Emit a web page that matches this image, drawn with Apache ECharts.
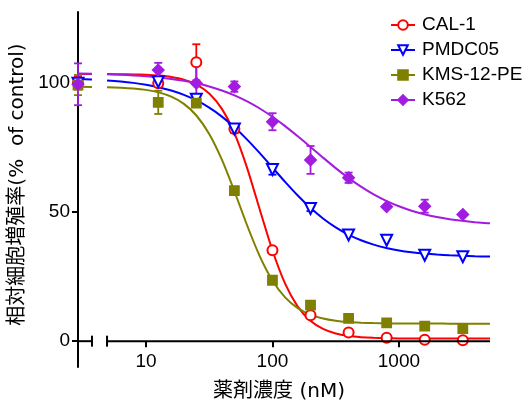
<!DOCTYPE html>
<html><head><meta charset="utf-8">
<script src="https://cdn.jsdelivr.net/npm/echarts@6/dist/echarts.min.js"></script>
<style>html,body{margin:0;padding:0;background:#fff}#c{width:529px;height:401px}</style>
</head><body><div id="c"></div>
<script>
// ---- data ----
const seriesNames = ['CAL-1', 'PMDC05', 'KMS-12-PE', 'K562'];
const doseConc = [2.9, 12.5, 25, 50, 100, 200, 400, 800, 1600, 3200]; // first = control (0 nM)
const cal1Mean = [100, 99.9, 108, 82.2, 35.2, 10.0, 3.4, 1.3, 0.6, 0.4];
const cal1Err  = [2.5, 1.0, 7.0, 1.5, 0, 0, 0, 0, 0, 0];
const pmdcMean = [99.9, 100.5, 93.7, 82.2, 66.5, 51.4, 41.1, 39.1, 33.3, 32.7];
const pmdcErr  = [1.5, 1.0, 1.5, 1.5, 2.0, 1.0, 0, 0, 0, 0];
const kmsMean  = [99.2, 92.5, 92.2, 58.3, 23.6, 14.0, 8.8, 7.1, 5.8, 4.9];
const kmsErr   = [3.9, 4.5, 1.0, 1.5, 0, 0, 0, 0, 0, 0];
const k562Mean = [99.5, 105, 99.9, 98.6, 85.0, 70.2, 63.3, 52.1, 52.3, 49.1];
const k562Err  = [8.1, 2.8, 8.3, 2.0, 3.3, 5.4, 2.0, 0, 2.5, 0];

// fitted curves
const curveConc = [2.9, 3.74, 4.92, 6.31, 7.94, 10, 12.59, 15.85, 19.95, 25.12, 31.62, 39.81, 50.12, 63.10, 79.43,
  100, 125.9, 158.5, 199.5, 251.2, 316.2, 398.1, 501.2, 631.0, 794.3, 1000, 1259, 1585, 1995, 2512, 3162, 3981, 5012, 5250];
const cal1Curve = [103.5, 103.5, 103.45, 103.41, 103.33, 103.18, 102.88, 102.33, 101.3, 99.38, 95.93, 89.98, 80.48, 67.04, 50.93,
  35.11, 22.27, 13.38, 7.89, 4.74, 2.99, 2.06, 1.56, 1.29, 1.15, 1.08, 1.04, 1.02, 1.01, 1.0, 1.0, 1.0, 1.0, 1.0];
const pmdcCurve = [101.51, 101.31, 100.99, 100.58, 100.05, 99.34, 98.38, 97.1, 95.41, 93.23, 90.44, 86.99, 82.85, 78.08, 72.81,
  67.25, 61.7, 56.42, 51.65, 47.51, 44.06, 41.28, 39.09, 37.4, 36.12, 35.16, 34.45, 33.92, 33.54, 33.25, 33.05, 32.9, 32.79, 32.77];
const kmsCurve  = [98.54, 98.49, 98.39, 98.2, 97.89, 97.34, 96.38, 94.72, 91.9, 87.31, 80.24, 70.29, 57.98, 44.81, 32.87,
  23.51, 16.99, 12.81, 10.27, 8.78, 7.92, 7.43, 7.16, 7.0, 6.91, 6.86, 6.83, 6.82, 6.81, 6.8, 6.8, 6.8, 6.8, 6.8];
const k562Curve = [103.68, 103.57, 103.4, 103.19, 102.93, 102.59, 102.15, 101.57, 100.83, 99.87, 98.65, 97.11, 95.21, 92.89, 90.13,
  86.92, 83.31, 79.37, 75.25, 71.09, 67.04, 63.26, 59.85, 56.87, 54.35, 52.25, 50.54, 49.18, 48.1, 47.26, 46.61, 46.11, 45.72, 45.65];

const xTickValues = [10, 100, 1000];
const yTickValues = [0, 50, 100];
const xRange = [2.9, 5250];
const yRange = [-10, 127.5];
const axisBreak = [3.74, 4.92];

// ---- styles ----
const colors = ['#FF0000', '#0000FF', '#808000', '#A21CE0'];
const symbols = ['emptyCircle', 'emptyTriangle', 'rect', 'diamond'];
const symbolSizes = [10, 11, 9, 11];
const symbolRotates = [0, 180, 0, 0];
const FONT = "'Liberation Sans', Arial, 'Noto Sans CJK JP', sans-serif";
const TITLE_FONT = "'DejaVu Sans', 'Noto Sans CJK JP', sans-serif";

const means = [cal1Mean, pmdcMean, kmsMean, k562Mean];
const errs = [cal1Err, pmdcErr, kmsErr, k562Err];
const curves = [cal1Curve, pmdcCurve, kmsCurve, k562Curve];

function curveData(vals) {
  const out = [];
  curveConc.forEach((c, i) => {
    if (i > 0 && curveConc[i - 1] <= axisBreak[0] && c >= axisBreak[1]) {
      out.push([(axisBreak[0] + axisBreak[1]) / 2, '-']);
    }
    out.push([c, vals[i]]);
  });
  return out;
}

const series = [];
// curves first (legend icons come from these)
seriesNames.forEach((n, k) => {
  series.push({
    type: 'line', name: n, data: curveData(curves[k]), showSymbol: false,
    symbol: symbols[k], symbolSize: symbolSizes[k], symbolRotate: symbolRotates[k],
    connectNulls: false, smooth: 0.2,
    lineStyle: { color: colors[k], width: 2 },
    itemStyle: { color: colors[k], borderColor: colors[k], borderWidth: 1.8 },
    z: 2, silent: true
  });
});
// error bars
seriesNames.forEach((n, k) => {
  const data = doseConc.map((c, i) => [c, means[k][i] - errs[k][i], means[k][i] + errs[k][i], errs[k][i]]);
  series.push({
    type: 'custom', name: n, clip: false, silent: true, z: 3,
    encode: { x: 0, y: [1, 2] },
    data: data,
    renderItem: function (params, api) {
      if (api.value(3) <= 0) return null;
      const x = api.value(0);
      const p1 = api.coord([x, api.value(2)]);
      const p2 = api.coord([x, api.value(1)]);
      const w = 4;
      const st = { stroke: colors[k], lineWidth: 1.8 };
      return {
        type: 'group', children: [
          { type: 'line', shape: { x1: p1[0], y1: p1[1], x2: p2[0], y2: p2[1] }, style: st },
          { type: 'line', shape: { x1: p1[0] - w, y1: p1[1], x2: p1[0] + w, y2: p1[1] }, style: st },
          { type: 'line', shape: { x1: p2[0] - w, y1: p2[1], x2: p2[0] + w, y2: p2[1] }, style: st }
        ]
      };
    }
  });
});
// points
seriesNames.forEach((n, k) => {
  series.push({
    type: 'scatter', name: n, clip: false, silent: true, z: 4,
    data: doseConc.map((c, i) => [c, means[k][i]]),
    symbol: symbols[k], symbolSize: symbolSizes[k], symbolRotate: symbolRotates[k],
    itemStyle: { color: colors[k], borderColor: colors[k], borderWidth: 1.8, opacity: 1 }
  });
});
// broken x axis line
series.push({
  type: 'custom', clip: false, silent: true, z: 5,
  data: [[xRange[0], axisBreak[0], axisBreak[1], xRange[1]]],
  encode: { x: [0, 1, 2, 3] },
  renderItem: function (params, api) {
    const a = api.coord([api.value(0), 0]);
    const b = api.coord([api.value(1), 0]);
    const c = api.coord([api.value(2), 0]);
    const d = api.coord([api.value(3), 0]);
    const st = { stroke: '#000', lineWidth: 2 };
    const h = 5.5;
    return {
      type: 'group', children: [
        { type: 'line', shape: { x1: a[0], y1: a[1], x2: b[0], y2: b[1] }, style: st },
        { type: 'line', shape: { x1: c[0], y1: c[1], x2: d[0], y2: d[1] }, style: st },
        { type: 'line', shape: { x1: b[0], y1: b[1] - h, x2: b[0], y2: b[1] + h }, style: st },
        { type: 'line', shape: { x1: c[0], y1: c[1] - h, x2: c[0], y2: c[1] + h }, style: st }
      ]
    };
  }
});

const chart = echarts.init(document.getElementById('c'));
chart.setOption({
  animation: false,
  backgroundColor: '#fff',
  grid: { left: 78, right: 39, top: 12, bottom: 34, outerBoundsMode: 'none', containLabel: false },
  legend: {
    data: seriesNames, orient: 'vertical', left: 385, top: 10,
    itemWidth: 24, itemHeight: 12, itemGap: 5,
    textStyle: { fontFamily: FONT, fontSize: 19, color: '#000', lineHeight: 20, padding: [0, 0, 0, 2] }
  },
  xAxis: {
    type: 'log', logBase: 10, min: xRange[0], max: xRange[1],
    name: '薬剤濃度 (nM)', nameLocation: 'middle', nameGap: 41,
    nameTextStyle: { fontFamily: TITLE_FONT, fontSize: 20, color: '#000', padding: [0, 10, 0, 0] },
    axisLine: { show: false, onZero: false },
    axisTick: { show: true, customValues: xTickValues, length: 6, lineStyle: { color: '#000', width: 2 } },
    axisLabel: { customValues: xTickValues, margin: 11, fontFamily: FONT, fontSize: 19, color: '#000',
      formatter: v => String(Math.round(v)) },
    splitLine: { show: false }, minorTick: { show: false }
  },
  yAxis: {
    type: 'value', min: yRange[0], max: yRange[1],
    name: '相対細胞増殖率(%  of control)', nameLocation: 'middle', nameGap: 36,
    nameTextStyle: { fontFamily: TITLE_FONT, fontSize: 20, color: '#000', padding: [0, 0, 0, 10] },
    axisLine: { show: true, lineStyle: { color: '#000', width: 2 } },
    axisTick: { show: true, customValues: yTickValues, length: 6, lineStyle: { color: '#000', width: 2 } },
    axisLabel: { customValues: yTickValues, margin: 8, fontFamily: FONT, fontSize: 19, color: '#000' },
    splitLine: { show: false }
  },
  series: series
});
// place the x axis on y = 0 (measured through the y scale)
const yZeroPx = chart.convertToPixel({ yAxisIndex: 0 }, 0);
const yMinPx = chart.convertToPixel({ yAxisIndex: 0 }, yRange[0]);
chart.setOption({ xAxis: { offset: -(yMinPx - yZeroPx) } });
</script>
</body></html>
